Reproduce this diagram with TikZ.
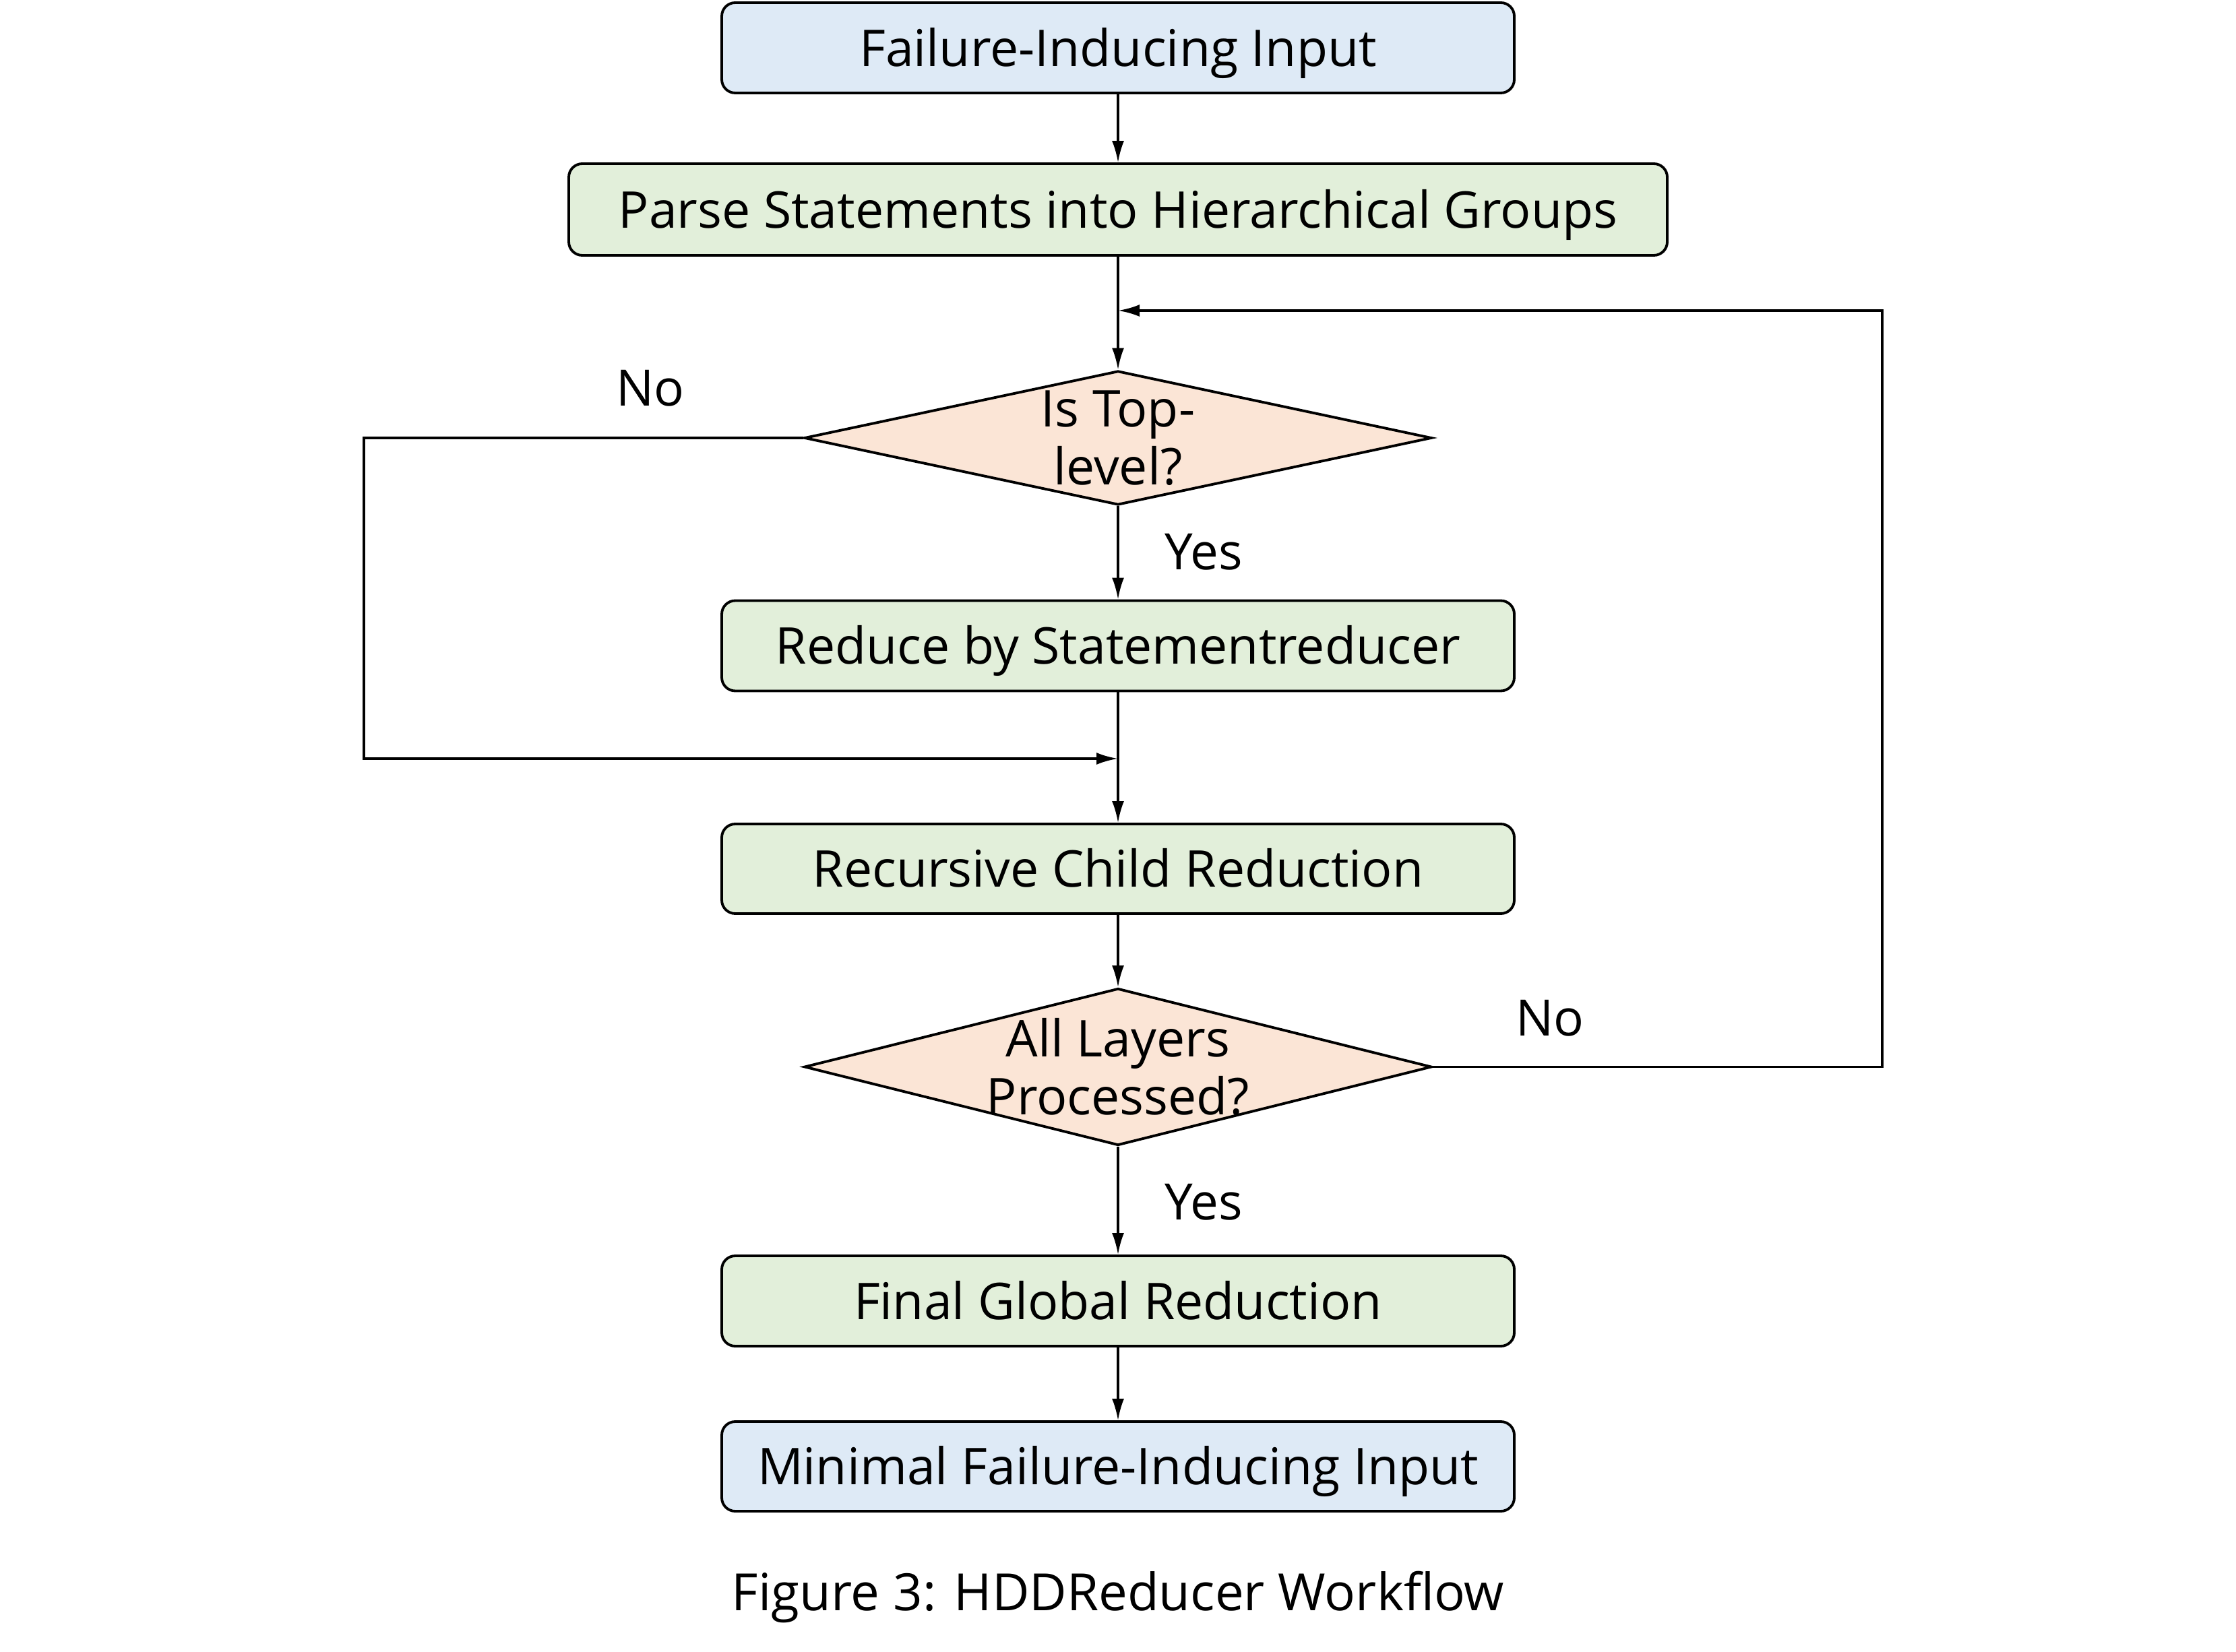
\documentclass[tikz,border=0pt]{standalone}
\usepackage{fontspec}
\setmainfont{Open Sans}
\usetikzlibrary{shapes.geometric,arrows.meta}
\definecolor{boxblue}{HTML}{DEEAF6}
\definecolor{boxgreen}{HTML}{E2EFDA}
\definecolor{boxpeach}{HTML}{FBE5D6}
\tikzset{
  base/.style={draw=black, line width=1.1pt, rounded corners=0.2cm, inner sep=0pt,
    font=\fontsize{21.4}{25}\selectfont, text=black, text height=15.4pt, text depth=0pt},
  ioblock/.style={base, fill=boxblue, minimum width=11.76cm, minimum height=1.34cm},
  procblock/.style={base, fill=boxgreen, minimum width=11.76cm, minimum height=1.34cm},
  decision/.style={shape=diamond, draw=black, line width=1.1pt, fill=boxpeach, inner sep=0pt,
    minimum width=9.31cm},
  dtext/.style={align=center, font=\fontsize{21.4}{24.3}\selectfont, inner sep=0pt},
  lbl/.style={font=\fontsize{21.2}{25}\selectfont, inner sep=0pt},
  conn/.style={line width=0.9pt, -{Latex[length=0.32cm,width=0.18cm]}},
  branch/.style={line width=1.1pt, -{Latex[length=0.32cm,width=0.18cm]}},
}
\begin{document}
\begin{tikzpicture}
\useasboundingbox (0,0) rectangle (33.18,-24.52);
\node[ioblock] (b1) at (16.59,-0.71) {Failure-Inducing Input};
\node[procblock, minimum width=16.30cm, minimum height=1.36cm] (b2) at (16.59,-3.11) {Parse Statements into Hierarchical Groups};
\node[decision, minimum height=1.99cm] (d1) at (16.59,-6.50) {};
\node[dtext] (d1t) at (d1.center) {Is Top-\\level?};
\node[procblock] (b3) at (16.59,-9.585) {Reduce by Statementreducer};
\node[procblock, minimum height=1.33cm] (b4) at (16.59,-12.895) {Recursive Child Reduction};
\node[decision, minimum height=2.33cm] (d2) at (16.59,-15.835) {};
\node[dtext] (d2t) at (d2.center) {All Layers\\Processed?};
\node[procblock] (b5) at (16.59,-19.31) {Final Global Reduction};
\node[ioblock, minimum height=1.33cm] (b6) at (16.59,-21.765) {Minimal Failure-Inducing Input};
\node[lbl, font=\fontsize{21.7}{26}\selectfont] (cap) at (16.59,-23.70) {Figure 3: HDDReducer Workflow};

\coordinate (merge) at (16.59,-11.26);
\coordinate (loopin) at (16.59,-4.61);
\coordinate (lcorner) at (5.40,-6.50);
\coordinate (rcorner) at (27.93,-15.835);

\draw[conn] (b1) -- (b2);
\draw[conn] (b2) -- (d1.north);
\draw[conn] (d1.south) -- (b3);
\draw[conn] (b3) -- (b4);
\draw[conn] (b4) -- (d2.north);
\draw[conn] (d2.south) -- (b5);
\draw[conn] (b5) -- (b6);
\draw[branch] (d1.west) -- (lcorner) |- (merge);
\draw[branch] (d2.east) -- (rcorner) |- (loopin);

\node[lbl] (no1) at (9.65,-5.76) {No};
\node[lbl] (yes1) at (17.86,-8.19) {Yes};
\node[lbl] (no2) at (23.00,-15.11) {No};
\node[lbl] (yes2) at (17.86,-17.84) {Yes};
\end{tikzpicture}
\end{document}
